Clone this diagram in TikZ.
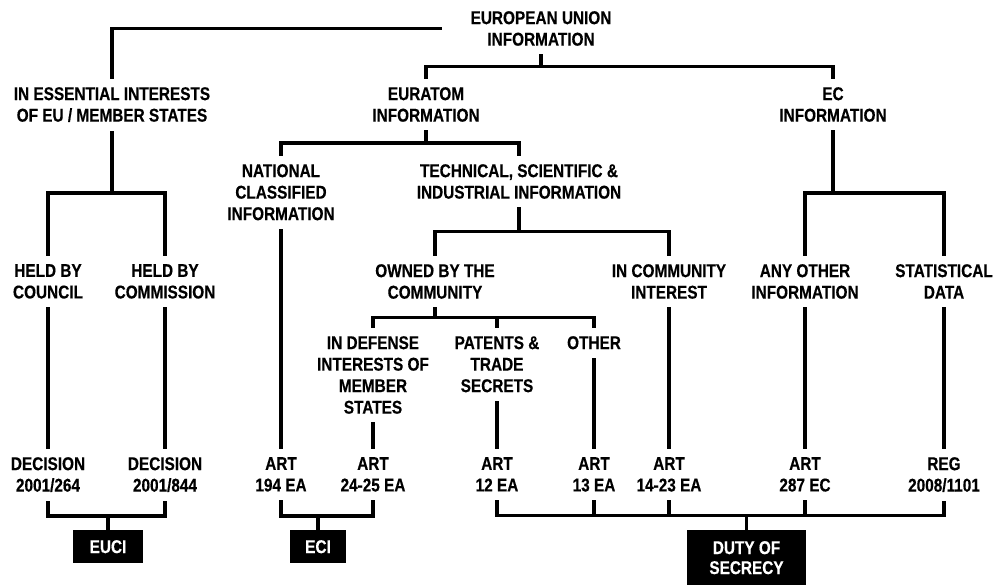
\documentclass[tikz,border=0pt]{standalone}
\usepackage{fontspec}
\setmainfont{Liberation Sans}[FakeStretch=0.83, FakeBold=0.4]
\usetikzlibrary{calc}

\tikzset{
  lbl/.style={font=\bfseries\fontsize{18.5}{21.5}\selectfont, align=center,
    inner xsep=2pt, inner ysep=10pt, anchor=north},
  tag/.style={fill=black, text=white, font=\bfseries\fontsize{18.5}{20}\selectfont,
    align=center, inner sep=0pt, anchor=north, minimum height=33pt},
  wire/.style={line width=3.2pt, line cap=rect},
}

\begin{document}
\begin{tikzpicture}[x=1pt, y=-1pt]
  \useasboundingbox (0,0) rectangle (996,585);

  % top levels
  \node[lbl] (eu) at (541,1) {EUROPEAN UNION\\INFORMATION};
  \node[lbl] (essential) at (112,77) {IN ESSENTIAL INTERESTS\\OF EU / MEMBER STATES};
  \node[lbl] (euratom) at (426,77) {EURATOM\\INFORMATION};
  \node[lbl] (ec) at (833,77) {EC\\INFORMATION};
  \node[lbl] (national) at (281,154) {NATIONAL\\CLASSIFIED\\INFORMATION};
  \node[lbl] (technical) at (519,154) {TECHNICAL, SCIENTIFIC \&\\INDUSTRIAL INFORMATION};

  \node[lbl] (council) at (48,254) {HELD BY\\COUNCIL};
  \node[lbl] (commission) at (165,254) {HELD BY\\COMMISSION};
  \node[lbl] (owned) at (435,254) {OWNED BY THE\\COMMUNITY};
  \node[lbl] (interest) at (669,254) {IN COMMUNITY\\INTEREST};
  \node[lbl] (anyinfo) at (805,254) {ANY OTHER\\INFORMATION};
  \node[lbl] (statistical) at (944,254) {STATISTICAL\\DATA};

  \node[lbl] (defense) at (373,326) {IN DEFENSE\\INTERESTS OF\\MEMBER\\STATES};
  \node[lbl] (patents) at (497,326) {PATENTS \&\\TRADE\\SECRETS};
  \node[lbl] (other) at (594,326) {OTHER};

  % legal bases
  \node[lbl] (dec1) at (48,447) {DECISION\\2001/264};
  \node[lbl] (dec2) at (165,447) {DECISION\\2001/844};
  \node[lbl] (art194) at (281,447) {ART\\194 EA};
  \node[lbl] (art2425) at (373,447) {ART\\24-25 EA};
  \node[lbl] (art12) at (497,447) {ART\\12 EA};
  \node[lbl] (art13) at (594,447) {ART\\13 EA};
  \node[lbl] (art1423) at (669,447) {ART\\14-23 EA};
  \node[lbl] (art287) at (805,447) {ART\\287 EC};
  \node[lbl] (reg) at (944,447) {REG\\2008/1101};

  % regimes
  \node[tag, minimum width=70pt] (euci) at (108,530) {EUCI};
  \node[tag, minimum width=56pt] (eci) at (318,530) {ECI};
  \node[tag, minimum width=119pt, minimum height=55pt] (duty) at (746.5,530) {DUTY OF\\SECRECY};

  % branches
  \draw[wire, shorten <=28pt] (eu.west) -| (essential.north);
  \coordinate (euBus) at ($(eu.south)!.5!(ec.north)$);
  \draw[wire] (eu.south) -- (eu.south |- euBus);
  \draw[wire] (euratom.north) |- (euBus -| ec.north) -- (ec.north);

  \coordinate (essBus) at ($(essential.south)!.5!(council.north)$);
  \draw[wire] (essential.south) -- (essential.south |- essBus);
  \draw[wire] (council.north) |- (essBus -| commission.north) -- (commission.north);

  \coordinate (eaBus) at ($(euratom.south)!.5!(national.north)$);
  \draw[wire] (euratom.south) -- (euratom.south |- eaBus);
  \draw[wire] (national.north) |- (eaBus -| technical.north) -- (technical.north);

  \coordinate (techBus) at ($(technical.south)!.5!(owned.north)$);
  \draw[wire] (technical.south) -- (technical.south |- techBus);
  \draw[wire] (owned.north) |- (techBus -| interest.north) -- (interest.north);

  \coordinate (ownBus) at ($(owned.south)!.5!(defense.north)$);
  \draw[wire] (owned.south) -- (owned.south |- ownBus);
  \draw[wire] (defense.north) |- (ownBus -| other.north) -- (other.north);
  \draw[wire] (patents.north) -- (patents.north |- ownBus);

  \coordinate (ecBus) at ($(ec.south)!.5!(anyinfo.north)$);
  \draw[wire] (ec.south) -- (ec.south |- ecBus);
  \draw[wire] (anyinfo.north) |- (ecBus -| statistical.north) -- (statistical.north);

  % down to the legal bases
  \draw[wire] (council) -- (dec1);
  \draw[wire] (commission) -- (dec2);
  \draw[wire] (national) -- (art194);
  \draw[wire] (defense) -- (art2425);
  \draw[wire] (patents) -- (art12);
  \draw[wire] (other) -- (art13);
  \draw[wire] (interest) -- (art1423);
  \draw[wire] (anyinfo) -- (art287);
  \draw[wire] (statistical) -- (reg);

  % brackets into the regimes
  \coordinate (euciBus) at ($(dec1.south)!.5!(euci.north)$);
  \draw[wire] (dec1.south) |- (euciBus -| dec2.south) -- (dec2.south);
  \draw[wire] (euci.north) -- (euci.north |- euciBus);

  \coordinate (eciBus) at ($(art194.south)!.5!(eci.north)$);
  \draw[wire] (art194.south) |- (eciBus -| art2425.south) -- (art2425.south);
  \draw[wire] (eci.north) -- (eci.north |- eciBus);

  \coordinate (dutyBus) at ($(art12.south)!.5!(duty.north)$);
  \draw[wire] (art12.south) |- (dutyBus -| reg.south) -- (reg.south);
  \foreach \n in {art13,art1423,art287}
    \draw[wire] (\n.south) -- (\n.south |- dutyBus);
  \draw[wire] (duty.north) -- (duty.north |- dutyBus);
\end{tikzpicture}
\end{document}
